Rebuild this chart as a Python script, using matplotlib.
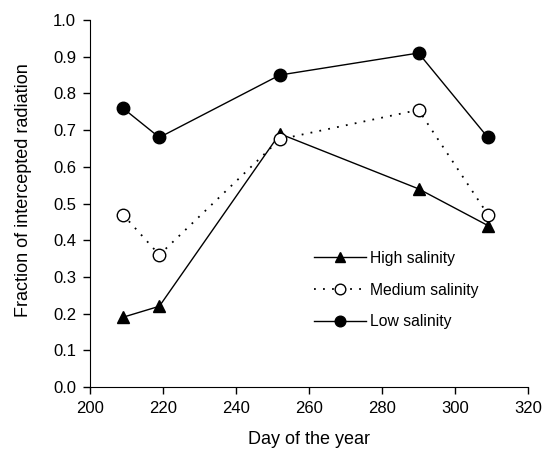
import matplotlib
matplotlib.use("Agg")
import matplotlib.pyplot as plt

plt.rcParams['font.family'] = ['Liberation Sans', 'DejaVu Sans']

days = [209, 219, 252, 290, 309]
high = [0.19, 0.22, 0.69, 0.54, 0.44]
medium = [0.47, 0.36, 0.675, 0.755, 0.47]
low = [0.76, 0.68, 0.85, 0.91, 0.68]
xticks = [200, 220, 240, 260, 280, 300, 320]
yticks = [0.0, 0.1, 0.2, 0.3, 0.4, 0.5, 0.6, 0.7, 0.8, 0.9, 1.0]

fig = plt.figure(figsize=(5.44, 4.53), dpi=100)
ax = fig.add_axes([90/544, 1-387/453, (528-90)/544, (387-20)/453])

ax.plot(days, high, color='black', lw=1.0, marker='^', ms=9, mfc='black', mec='black', label='High salinity')
ax.plot(days, medium, color='black', lw=1.3, ls=(0, (1, 4)), marker='o', ms=9, mfc='white', mec='black', label='Medium salinity')
ax.plot(days, low, color='black', lw=1.0, marker='o', ms=9, mfc='black', mec='black', label='Low salinity')

ax.set_xlim(200, 320)
ax.set_ylim(0, 1.0)
ax.set_xticks(xticks)
ax.set_yticks(yticks)
ax.set_yticklabels([f"{v:.1f}" for v in yticks])
ax.spines['top'].set_visible(False)
ax.spines['right'].set_visible(False)
ax.tick_params(direction='out', length=5, width=1, labelsize=12, pad=5)
ax.set_xlabel('Day of the year', fontsize=13, labelpad=11)
ax.set_ylabel('Fraction of intercepted radiation', fontsize=13)
ax.yaxis.set_label_coords(-0.133, 0.537)

leg = ax.legend(loc='center left', bbox_to_anchor=(0.48, 0.264), frameon=False,
                fontsize=11.3, markerscale=0.85, handlelength=3.3, labelspacing=1.07, handletextpad=0.25)

fig.savefig('out.png', dpi=100)
